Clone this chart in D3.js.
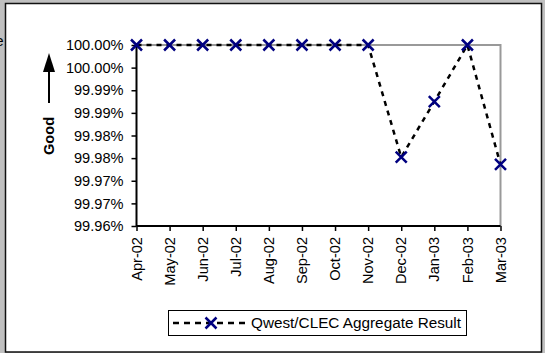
<!DOCTYPE html>
<html><head><meta charset="utf-8">
<script src="https://cdn.jsdelivr.net/npm/d3@7"></script>
<style>
html,body{margin:0;padding:0;background:#c0c0c0;}
svg{display:block;}
text{font-family:"Liberation Sans",Arial,sans-serif;}
</style></head>
<body>
<script>
const months = ["Apr-02","May-02","Jun-02","Jul-02","Aug-02","Sep-02","Oct-02","Nov-02","Dec-02","Jan-03","Feb-03","Mar-03"];
const aggregate = [100, 100, 100, 100, 100, 100, 100, 100, 99.9752, 99.9875, 100, 99.9736];
const yTickValues = [100, 99.995, 99.99, 99.985, 99.98, 99.975, 99.97, 99.965, 99.96];
const yTickLabels = ["100.00%","100.00%","99.99%","99.99%","99.98%","99.98%","99.97%","99.97%","99.96%"];
const seriesName = "Qwest/CLEC Aggregate Result";
const sideLabel = "Good";

(function () {
const W = 545, H = 353;
const pL = 136.5, pR = 500.5, pT = 45, pB = 226;
const fs = 14.6;

const svg = d3.select("body").append("svg").attr("width", W).attr("height", H);

// frame
svg.append("rect").attr("x", 5.5).attr("y", 3.5).attr("width", 536).attr("height", 348.5)
  .attr("fill", "#fff").attr("stroke", "#111").attr("stroke-width", 1.5);
// clipped fragment at far left (as in the reference)
svg.append("text").attr("x", 3.5).attr("y", 46).attr("text-anchor", "end")
  .attr("font-size", fs).attr("fill", "#000").text("e");

const x = d3.scalePoint().domain(months).range([pL, pR]);
const y = d3.scaleLinear().domain([99.96, 100]).range([pB, pT]);

// plot border (gray top & right)
svg.append("path").attr("d", `M${pL},${pT}H${pR}V${pB}`)
  .attr("fill", "none").attr("stroke", "#999").attr("stroke-width", 2);

// y axis
const yAxis = d3.axisLeft(y).tickValues(yTickValues)
  .tickFormat((d, i) => yTickLabels[i]).tickSize(5).tickPadding(8);
const gy = svg.append("g").attr("transform", `translate(${pL},0)`).call(yAxis);
gy.select(".domain").attr("stroke", "#000").attr("stroke-width", 2).attr("d", `M0,${pT}V${pB}`);
gy.selectAll(".tick line").attr("stroke", "#000").attr("stroke-width", 1.5);
gy.selectAll(".tick text").attr("font-size", fs).attr("font-family", "Liberation Sans, Arial, sans-serif").attr("fill", "#000");

// x axis
const xAxis = d3.axisBottom(x).tickSize(5).tickFormat("");
const gx = svg.append("g").attr("transform", `translate(0,${pB})`).call(xAxis);
gx.select(".domain").attr("stroke", "#000").attr("stroke-width", 2).attr("d", `M${pL},0H${pR}`);
gx.selectAll(".tick line").attr("stroke", "#000").attr("stroke-width", 1.5);

svg.append("g").selectAll("text").data(months).join("text")
  .attr("transform", d => `translate(${x(d)},237) rotate(-90)`)
  .attr("text-anchor", "end").attr("dy", "0.35em")
  .attr("font-size", fs).attr("fill", "#000").text(d => d);

// side label with arrow
svg.append("text").attr("transform", "translate(49,136) rotate(-90)")
  .attr("text-anchor", "middle").attr("dy", "0.35em")
  .attr("font-size", fs).attr("font-weight", "bold").attr("fill", "#000").text(sideLabel);
svg.append("line").attr("x1", 49).attr("x2", 49).attr("y1", 70).attr("y2", 103)
  .attr("stroke", "#000").attr("stroke-width", 2);
svg.append("path").attr("d", "M49,53L43,72L55,72Z").attr("fill", "#000");

// series line
const line = d3.line().x((d, i) => x(months[i])).y(d => y(d));
svg.append("path").datum(aggregate).attr("d", line)
  .attr("fill", "none").attr("stroke", "#000").attr("stroke-width", 2.5)
  .attr("stroke-dasharray", "5,5");

function cross(g, cx, cy) {
  const s = 5.5;
  g.append("path").attr("d", `M${cx-s},${cy-s}L${cx+s},${cy+s}M${cx-s},${cy+s}L${cx+s},${cy-s}`)
    .attr("stroke", "#000080").attr("stroke-width", 2.5).attr("fill", "none");
}
const mg = svg.append("g");
aggregate.forEach((v, i) => cross(mg, x(months[i]), y(v)));

// legend
svg.append("rect").attr("x", 168.5).attr("y", 310.5).attr("width", 298).attr("height", 25)
  .attr("fill", "#fff").attr("stroke", "#000").attr("stroke-width", 1);
svg.append("line").attr("x1", 173).attr("x2", 247).attr("y1", 323).attr("y2", 323)
  .attr("stroke", "#000").attr("stroke-width", 2.5).attr("stroke-dasharray", "6,5");
cross(svg, 211, 323);
svg.append("text").attr("x", 251).attr("y", 323).attr("dy", "0.35em")
  .attr("font-size", 15.3).attr("fill", "#000").text(seriesName);
})();
</script>
</body></html>
